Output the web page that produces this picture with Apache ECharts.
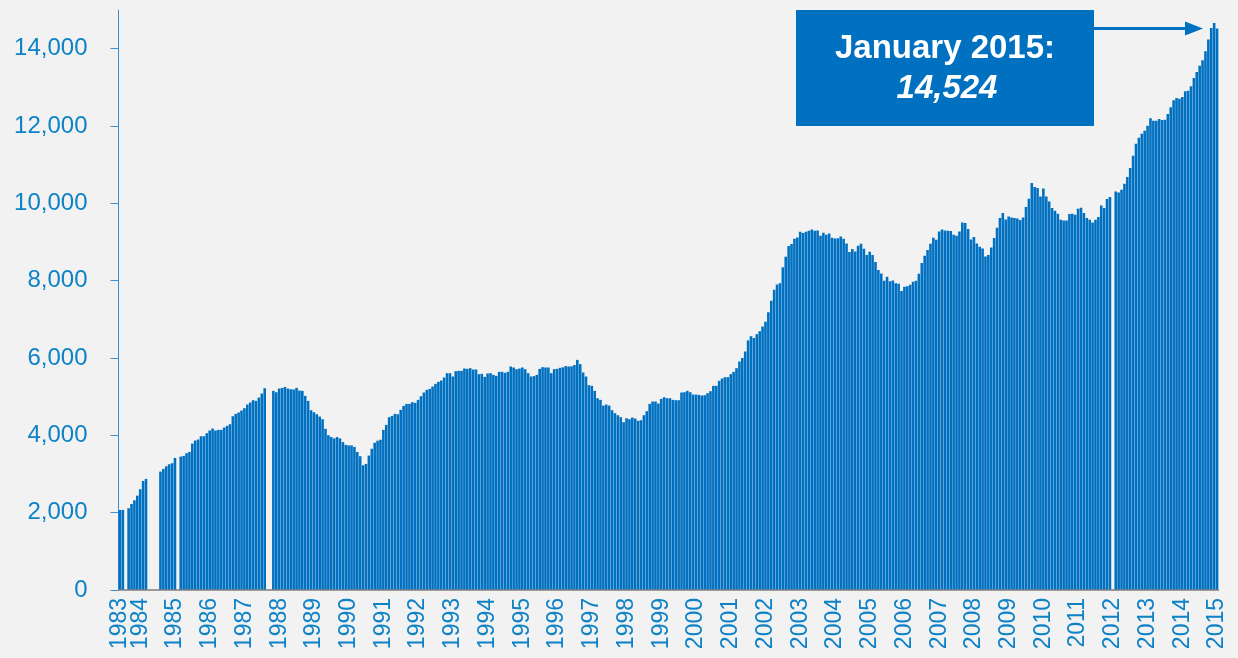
<!DOCTYPE html>
<html>
<head>
<meta charset="utf-8">
<script src="https://cdn.jsdelivr.net/npm/echarts@6/dist/echarts.min.js"></script>
<style>
  html, body { margin: 0; padding: 0; background: #F2F2F2; }
  #chart { width: 1238px; height: 658px; }
</style>
</head>
<body>
<div id="chart"></div>
<script>
// Monthly values, first category is June 1983, last is January 2015 (null = no data)
const v1983 = [2070, 2070, null, 2114, 2225, 2320, 2440];            // Jun–Dec
const v1984 = [2605, 2820, 2873, null, null, null, null, 3062, 3131, 3200, 3252, 3278];
const v1985 = [3416, null, 3450, 3468, 3537, 3571, 3787, 3865, 3891, 3977, 3977, 4055];
const v1986 = [4124, 4175, 4124, 4141, 4141, 4201, 4244, 4287, 4494, 4555, 4590, 4641];
const v1987 = [4702, 4797, 4848, 4909, 4891, 4977, 5081, 5218, null, null, 5150, 5115];
const v1988 = [5210, 5225, 5250, 5210, 5193, 5185, 5228, 5158, 5150, 5021, 4891, 4650];
const v1989 = [4598, 4546, 4486, 4417, 4167, 4003, 3955, 3920, 3955, 3920, 3826, 3753];
const v1990 = [3740, 3740, 3701, 3567, 3460, 3227, 3261, 3476, 3653, 3808, 3860, 3886];
const v1991 = [4141, 4270, 4469, 4503, 4555, 4546, 4658, 4762, 4813, 4813, 4857, 4840];
const v1992 = [4917, 5012, 5107, 5176, 5202, 5262, 5331, 5383, 5418, 5495, 5608, 5608];
const v1993 = [5521, 5659, 5668, 5668, 5728, 5719, 5737, 5702, 5702, 5582, 5590, 5512];
const v1994 = [5599, 5608, 5564, 5538, 5642, 5642, 5616, 5642, 5780, 5754, 5711, 5728];
const v1995 = [5754, 5711, 5608, 5521, 5530, 5564, 5719, 5763, 5754, 5754, 5608, 5711];
const v1996 = [5719, 5745, 5760, 5790, 5780, 5785, 5820, 5952, 5841, 5625, 5521, 5297];
const v1997 = [5280, 5150, 4960, 4917, 4770, 4796, 4770, 4650, 4572, 4520, 4469, 4340];
const v1998 = [4443, 4417, 4460, 4434, 4374, 4391, 4520, 4624, 4813, 4874, 4874, 4822];
const v1999 = [4943, 4986, 4960, 4960, 4917, 4909, 4909, 5107, 5115, 5150, 5115, 5055];
const v2000 = [5055, 5047, 5029, 5038, 5090, 5142, 5280, 5280, 5409, 5469, 5504, 5504];
const v2001 = [5582, 5642, 5737, 5909, 6000, 6168, 6456, 6564, 6517, 6616, 6694, 6815];
const v2002 = [6935, 7186, 7479, 7764, 7901, 7936, 8350, 8618, 8894, 8946, 9084, 9119];
const v2003 = [9265, 9231, 9265, 9291, 9325, 9291, 9300, 9162, 9239, 9188, 9222, 9110];
const v2004 = [9093, 9100, 9145, 9084, 8963, 8739, 8817, 8756, 8903, 8955, 8825, 8662];
const v2005 = [8748, 8662, 8480, 8273, 8187, 7997, 8101, 7988, 8005, 7936, 7919, 7730];
const v2006 = [7841, 7858, 7893, 7971, 7997, 8178, 8454, 8643, 8790, 8955, 9110, 9058];
const v2007 = [9274, 9325, 9300, 9291, 9282, 9188, 9162, 9274, 9507, 9490, 9334, 9067];
const v2008 = [9127, 8963, 8877, 8834, 8627, 8662, 8860, 9101, 9369, 9619, 9748, 9580];
const v2009 = [9662, 9636, 9619, 9610, 9567, 9636, 9904, 10119, 10525, 10421, 10395, 10179];
const v2010 = [10386, 10179, 10050, 9878, 9809, 9731, 9576, 9558, 9558, 9723, 9731, 9705];
const v2011 = [9860, 9886, 9748, 9619, 9576, 9507, 9576, 9645, 9947, 9878, 10110, 10162];
const v2012 = [null, 10309, 10283, 10352, 10508, 10680, 10913, 11231, 11542, 11698, 11801, 11879];
const v2013 = [12008, 12198, 12138, 12138, 12181, 12155, 12164, 12311, 12483, 12664, 12725, 12707];
const v2014 = [12751, 12897, 12914, 13026, 13242, 13398, 13561, 13698, 13931, 14234, 14536, 14666];
const v2015 = [14524];                                                  // Jan

const yTicks = [0, 2000, 4000, 6000, 8000, 10000, 12000, 14000];
const annotTitle = 'January 2015:';
const annotValue = '14,524';

const startYear = 1983, startMonth = 6, endYear = 2015, endMonth = 1;

// build categories "YYYY-MM"
const categories = [];
for (let y = startYear; y <= endYear; y++) {
  const m0 = (y === startYear) ? startMonth : 1;
  const m1 = (y === endYear) ? endMonth : 12;
  for (let m = m0; m <= m1; m++) categories.push(y + '-' + (m < 10 ? '0' + m : m));
}
const values = [].concat(v1983, v1984, v1985, v1986, v1987, v1988, v1989, v1990, v1991,
  v1992, v1993, v1994, v1995, v1996, v1997, v1998, v1999, v2000, v2001, v2002, v2003,
  v2004, v2005, v2006, v2007, v2008, v2009, v2010, v2011, v2012, v2013, v2014, v2015);

const labelColor = '#0E82C6';
const barColor = '#0070C0';
const font = 'Liberation Sans, Arial, sans-serif';

function xLabel(intervalFn) {
  return {
    interval: intervalFn,
    formatter: function (val) { return val.slice(0, 4); },
    showMinLabel: true,
    showMaxLabel: true,
    rotate: 90,
    margin: 8,
    color: labelColor,
    fontFamily: font,
    fontSize: 23
  };
}

const chart = echarts.init(document.getElementById('chart'), null, { renderer: 'canvas' });
chart.setOption({
  animation: false,
  backgroundColor: '#F2F2F2',
  grid: { left: 118.5, right: 19.5, top: 10, bottom: 68, containLabel: false },
  xAxis: [{
    type: 'category',
    data: categories,
    boundaryGap: true,
    position: 'bottom',
    z: 5,
    axisLine: { show: true, lineStyle: { color: '#7f7f7f', width: 1.5 } },
    axisTick: { show: false },
    axisLabel: xLabel(function (idx, val) { return val.slice(5) === '01'; }),
    splitLine: { show: false }
  }, {
    // second copy of the axis only carries the label of the first category
    type: 'category',
    data: categories,
    boundaryGap: true,
    position: 'bottom',
    offset: 0,
    axisLine: { show: false },
    axisTick: { show: false },
    axisLabel: xLabel(function (idx) { return idx === 0; }),
    splitLine: { show: false }
  }],
  yAxis: {
    type: 'value',
    min: 0,
    max: 15000,
    interval: 2000,
    axisLine: { show: true, lineStyle: { color: '#3C8ED2', width: 1 } },
    axisTick: { show: true, length: 8, inside: false, customValues: yTicks, lineStyle: { color: '#3C8ED2' } },
    axisLabel: {
      customValues: yTicks,
      margin: 31,
      color: labelColor,
      fontFamily: font,
      fontSize: 24,
      formatter: function (v) { return v.toLocaleString('en-US'); }
    },
    splitLine: { show: false }
  },
  series: [{
    type: 'bar',
    xAxisIndex: 0,
    data: values,
    barCategoryGap: '10%',
    itemStyle: { color: barColor }
  }]
});

// annotation box and arrow
const tipY = chart.convertToPixel({ yAxisIndex: 0 }, values[values.length - 1]);
const tipX = 1203;
chart.setOption({
  graphic: [
    { type: 'rect', shape: { x: 796, y: 10, width: 298, height: 116 }, style: { fill: barColor }, z: 10 },
    { type: 'text', x: 945, y: 49, style: { text: annotTitle, fill: '#FFFFFF', font: 'bold 33px ' + font, textAlign: 'center', textVerticalAlign: 'middle' }, z: 11 },
    { type: 'text', x: 947, y: 89, style: { text: annotValue, fill: '#FFFFFF', font: 'italic bold 33px ' + font, textAlign: 'center', textVerticalAlign: 'middle' }, z: 11 },
    { type: 'line', shape: { x1: 1094, y1: tipY, x2: tipX - 12, y2: tipY }, style: { stroke: barColor, lineWidth: 3 }, z: 10 },
    { type: 'polygon', shape: { points: [[tipX - 18, tipY - 7], [tipX, tipY], [tipX - 18, tipY + 7]] }, style: { fill: barColor }, z: 10 }
  ]
});
</script>
</body>
</html>
